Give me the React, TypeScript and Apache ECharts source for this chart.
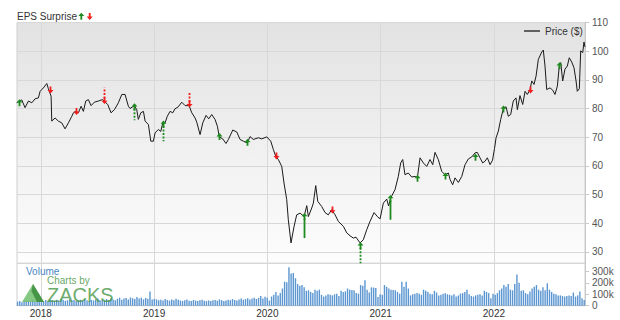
import React, { useEffect, useRef } from 'react';
import * as echarts from 'echarts';

const FONT = '"Liberation Sans", Arial, Helvetica, sans-serif';

// Price ($) line: dates as decimal years
const priceDates = [
  2017.788, 2017.832, 2017.861, 2017.891, 2017.921, 2017.950, 2017.979, 2017.994, 2018.023, 2018.053,
  2018.067, 2018.091, 2018.097, 2018.126, 2018.155, 2018.185, 2018.214, 2018.244, 2018.274, 2018.288,
  2018.309, 2018.332, 2018.356, 2018.376, 2018.397, 2018.420, 2018.444, 2018.473, 2018.508, 2018.544,
  2018.561, 2018.591, 2018.620, 2018.650, 2018.685, 2018.715, 2018.744, 2018.773, 2018.788, 2018.826,
  2018.847, 2018.861, 2018.883, 2018.906, 2018.921, 2018.950, 2018.971, 2018.994, 2019.009, 2019.038,
  2019.059, 2019.077, 2019.097, 2019.117, 2019.141, 2019.165, 2019.185, 2019.214, 2019.244, 2019.274,
  2019.309, 2019.333, 2019.362, 2019.377, 2019.406, 2019.430, 2019.459, 2019.483, 2019.509, 2019.538,
  2019.559, 2019.576, 2019.606, 2019.635, 2019.656, 2019.695, 2019.730, 2019.759, 2019.788, 2019.823,
  2019.847, 2019.876, 2019.921, 2019.951, 2019.995, 2020.030, 2020.053, 2020.074, 2020.097, 2020.127,
  2020.147, 2020.171, 2020.185, 2020.209, 2020.236, 2020.259, 2020.289, 2020.324, 2020.348, 2020.362,
  2020.392, 2020.406, 2020.427, 2020.445, 2020.480, 2020.509, 2020.538, 2020.568, 2020.598, 2020.627,
  2020.671, 2020.701, 2020.730, 2020.759, 2020.783, 2020.818, 2020.847, 2020.877, 2020.906, 2020.942,
  2020.971, 2020.995, 2021.024, 2021.054, 2021.070, 2021.089, 2021.127, 2021.156, 2021.177, 2021.195,
  2021.215, 2021.244, 2021.274, 2021.304, 2021.324, 2021.348, 2021.377, 2021.407, 2021.436, 2021.460,
  2021.480, 2021.509, 2021.539, 2021.568, 2021.598, 2021.613, 2021.636, 2021.657, 2021.686, 2021.716,
  2021.745, 2021.774, 2021.804, 2021.833, 2021.853, 2021.877, 2021.901, 2021.921, 2021.942, 2021.966,
  2021.988, 2022.005, 2022.019, 2022.039, 2022.060, 2022.083, 2022.107, 2022.127, 2022.148, 2022.171,
  2022.195, 2022.207, 2022.230, 2022.254, 2022.275, 2022.295, 2022.319, 2022.334, 2022.354, 2022.372,
  2022.392, 2022.422, 2022.436, 2022.451, 2022.466, 2022.495, 2022.519, 2022.539, 2022.560, 2022.577,
  2022.590, 2022.607, 2022.627, 2022.648, 2022.665, 2022.687, 2022.707, 2022.725, 2022.736, 2022.754,
  2022.766, 2022.784, 2022.795, 2022.804,
];
const priceValues = [
  82, 83, 80.3, 82.6, 82, 83.4, 83.7, 86, 87.2, 88.7,
  86.9, 84.3, 75.6, 76.7, 75.6, 75, 72.9, 75, 77.3, 78.5,
  79, 78.5, 80.8, 79, 82.6, 83.1, 81, 82.2, 82.6, 83.1,
  82.5, 81.4, 78.5, 79.6, 82, 84.9, 84.9, 80.8, 80, 81,
  79.6, 76.2, 78.5, 79, 75.6, 74.4, 68.6, 68.6, 71.5, 72.7,
  72, 75, 75, 77.3, 79, 78.5, 79.9, 80.6, 82.2, 81,
  81, 78.5, 76.7, 75.2, 70.9, 75, 77.6, 76.4, 77.9, 76.2,
  73.8, 70.1, 69.4, 67.8, 69.2, 72.5, 71.8, 69.2, 68.6, 68,
  70.2, 69.2, 69.8, 69.4, 70.1, 68.6, 65.7, 63.3, 62.2, 59.8,
  54, 48.2, 41.2, 33.1, 38.9, 42.9, 43.5, 42.3, 46.1, 42.3,
  45.3, 47, 53.1, 47.6, 45.8, 43.7, 42.9, 44.7, 42.9, 40.6,
  38.9, 36.6, 35.6, 34.8, 35.1, 33.1, 34.2, 37.7, 40.6, 43.7,
  42.3, 41.5, 47, 48.4, 46, 48.8, 51.7, 56.3, 61, 62.2,
  56.9, 57.5, 56.1, 56.3, 55.8, 62.8, 61, 59.8, 62.2, 60.4,
  64.7, 62.2, 58.1, 56.9, 57.5, 55.2, 53.4, 55.8, 54.2, 56.3,
  60.4, 62.4, 63.1, 64.5, 64.7, 62.8, 61, 61.6, 62.8, 60.4,
  62, 66, 69.8, 72.1, 76.2, 79.9, 80.6, 77.3, 77.9, 82.6,
  83.7, 79.6, 84.5, 81.4, 86, 84.9, 86.6, 89.6, 88.4, 91.3,
  97.1, 99.7, 100.4, 94.8, 86.6, 87.2, 86.4, 84.9, 87.8, 94.8,
  96, 89.6, 93.7, 94.8, 97.7, 96.2, 94.2, 89.6, 86, 86.9,
  100.1, 99.5, 103.2, 101.5,
];

// EPS surprise markers
const surpriseDates = [2017.81, 2018.078, 2018.309, 2018.561, 2018.826, 2019.077, 2019.309, 2019.576, 2019.823, 2020.074,
  2020.324, 2020.568, 2020.818, 2021.087, 2021.324, 2021.568, 2021.830, 2022.083, 2022.319, 2022.577];
const surprisePrice = [82, 86.5, 79, 82.8, 80.6, 74.6, 81.6, 70.2, 68.2, 63.5,
  42.3, 44.6, 32.1, 48.6, 55.6, 56.4, 63, 79.8, 86.5, 94.9];
const surpriseTail = [null, null, null, 87.2, 75.9, 68.6, 85.8, null, null, null,
  34.8, null, 26, 41.2, null, null, null, null, null, null];
const surpriseBeat = [1, -1, -1, -1, 1, 1, -1, 1, 1, -1, 1, -1, 1, 1, 1, 1, 1, 1, -1, 1];
const surpriseStem = [0, 0, 0, 2, 2, 2, 2, 0, 0, 0, 1, 0, 2, 1, 0, 0, 0, 0, 0, 0];

// Weekly volume (thousands)
const volumeStart = 2017.795;
const volume2017 = [35, 40, 30, 45, 38, 42, 35, 48, 40, 45, 38];
const volume2018 = [45, 38, 50, 42, 55, 48, 40, 52, 45, 60, 50, 42, 48, 55, 45, 50, 40, 47, 52, 44,
  58, 48, 42, 50, 46, 55, 62, 48, 52, 45, 58, 50, 65, 55, 48, 60, 70, 52, 62, 68,
  55, 72, 65, 58, 75, 62, 70, 55, 68, 60, 125, 55];
const volume2019 = [60, 55, 48, 52, 45, 58, 50, 44, 55, 48, 60, 52, 45, 42, 48, 55, 44, 40, 50, 45,
  42, 48, 52, 44, 40, 46, 42, 48, 50, 44, 55, 48, 42, 46, 52, 48, 58, 50, 46, 55,
  62, 52, 58, 65, 55, 62, 70, 58, 68, 85, 62, 78];
const volume2020 = [70, 45, 80, 95, 120, 90, 110, 150, 210, 205, 335, 280, 285, 240, 190, 175, 180, 160, 130, 135,
  120, 110, 140, 130, 140, 95, 80, 90, 100, 95, 90, 100, 105, 85, 130, 120, 125, 150, 140, 138,
  135, 110, 105, 180, 175, 223, 140, 115, 160, 158, 155, 75];
const volume2021 = [100, 95, 180, 165, 150, 140, 138, 135, 120, 105, 210, 165, 210, 150, 90, 100, 105, 110, 105, 95,
  140, 130, 120, 105, 100, 130, 115, 90, 95, 105, 108, 100, 95, 90, 100, 80, 90, 105, 110, 120,
  140, 100, 85, 80, 90, 95, 100, 90, 130, 120, 110, 65];
const volume2022 = [105, 95, 110, 135, 150, 180, 165, 190, 140, 135, 190, 273, 200, 130, 135, 110, 100, 125, 150, 165,
  180, 140, 130, 160, 135, 195, 140, 120, 105, 100, 90, 90, 85, 80, 85, 90, 85, 115, 80, 90,
  125, 65, 50];

const priceTicks = [30, 40, 50, 60, 70, 80, 90, 100, 110];
const volumeTicks = [0, 100, 200, 300];
const yearTicks = [2018, 2019, 2020, 2021, 2022];

const GREEN = '#1f8a1f';
const RED = '#f21d1d';

function arrowPoints(x: number, y: number, dir: number) {
  const s = dir > 0 ? 1 : -1;
  return [
    [x, y - s * 3.6],
    [x - 3, y - s * 0.2],
    [x - 0.9, y - s * 0.2],
    [x - 0.9, y + s * 3.4],
    [x + 0.9, y + s * 3.4],
    [x + 0.9, y - s * 0.2],
    [x + 3, y - s * 0.2],
  ];
}

export default function App() {
  const ref = useRef<HTMLDivElement>(null);
  useEffect(() => {
    if (!ref.current) return;
    const chart = echarts.init(ref.current, null, { renderer: 'svg' });
    const volumeAll = [...volume2017, ...volume2018, ...volume2019, ...volume2020, ...volume2021, ...volume2022];
    const weekYears = 7 / 365.25;
    const volData = volumeAll.map((v, i) => [volumeStart + i * weekYears, v]);
    const priceData = priceDates.map((d, i) => [d, priceValues[i]]);
    const surpriseData = surpriseDates.map((d, i) => [
      d, surprisePrice[i], surpriseTail[i] == null ? -1 : surpriseTail[i], surpriseBeat[i], surpriseStem[i],
    ]);
    const xMin = 2017.79;
    const xMax = 2022.804;
    const gridColor = '#d8d8d8';

    chart.setOption({
      animation: false,
      backgroundColor: '#ffffff',
      textStyle: { fontFamily: FONT },
      legend: {
        left: 524,
        top: 26,
        icon: 'rect',
        itemWidth: 16,
        itemHeight: 1.3,
        padding: 0,
        textStyle: { fontSize: 10, color: '#333', fontFamily: FONT },
        data: ['Price ($)'],
      },
      grid: [
        {
          left: 17, top: 22.5, width: 568, height: 240.8, show: true,
          borderColor: '#cfcfcf', borderWidth: 1,
          backgroundColor: new echarts.graphic.LinearGradient(0, 0, 0, 1, [
            { offset: 0, color: '#e2e2e2' },
            { offset: 1, color: '#fdfdfd' },
          ]),
        },
        {
          left: 17, top: 263.3, width: 568, height: 42.4, show: true,
          borderColor: '#cfcfcf', borderWidth: 1, backgroundColor: '#ffffff',
        },
      ],
      xAxis: [
        {
          type: 'value', gridIndex: 0, min: xMin, max: xMax,
          axisLine: { show: false },
          axisTick: { show: false, customValues: yearTicks },
          axisLabel: { show: false, customValues: yearTicks },
          splitLine: { show: true, lineStyle: { color: gridColor, width: 1 } },
        },
        {
          type: 'value', gridIndex: 1, min: xMin, max: xMax,
          axisLine: { show: true, lineStyle: { color: '#c8c8c8' } },
          axisTick: { show: false, customValues: yearTicks },
          axisLabel: {
            show: true, customValues: yearTicks, margin: 3,
            fontSize: 10, color: '#333', fontFamily: FONT,
            formatter: (v: number) => String(Math.round(v)),
          },
          splitLine: { show: true, lineStyle: { color: gridColor, width: 1 } },
        },
      ],
      yAxis: [
        {
          type: 'value', gridIndex: 0, position: 'right', min: 26, max: 110,
          axisLine: { show: true, lineStyle: { color: '#c8c8c8' } },
          axisTick: { show: true, length: 4, customValues: priceTicks, lineStyle: { color: '#c8c8c8' } },
          axisLabel: { show: true, customValues: priceTicks, margin: 7, fontSize: 10, color: '#555', fontFamily: FONT },
          splitLine: { show: true, lineStyle: { color: gridColor, width: 1 } },
        },
        {
          type: 'value', gridIndex: 1, position: 'right', min: 0, max: 370,
          axisLine: { show: true, lineStyle: { color: '#c8c8c8' } },
          axisTick: { show: true, length: 4, customValues: volumeTicks, lineStyle: { color: '#c8c8c8' } },
          axisLabel: {
            show: true, customValues: volumeTicks, margin: 7, fontSize: 10, color: '#555', fontFamily: FONT,
            formatter: (v: number) => (v === 0 ? '0' : v + 'k'),
          },
          splitLine: { show: false },
        },
      ],
      series: [
        {
          name: 'Price ($)', type: 'line', xAxisIndex: 0, yAxisIndex: 0,
          data: priceData, symbol: 'none', showSymbol: false, z: 3,
          lineStyle: { color: '#1a1a1a', width: 1 }, itemStyle: { color: '#1a1a1a' },
        },
        {
          name: 'Volume', type: 'bar', xAxisIndex: 1, yAxisIndex: 1,
          data: volData, barWidth: 1.4, itemStyle: { color: '#5b96d1' }, z: 2,
        },
        {
          name: 'EPS', type: 'custom', xAxisIndex: 0, yAxisIndex: 0, z: 4,
          data: surpriseData,
          renderItem: (params: any, api: any) => {
            const t = api.value(0);
            const p = api.value(1);
            const tail = api.value(2);
            const dir = api.value(3);
            const st = api.value(4);
            const pt = api.coord([t, p]);
            const x = Math.round(pt[0]) + 0.5;
            const y = pt[1];
            const color = dir > 0 ? GREEN : RED;
            const s = dir > 0 ? 1 : -1;
            const children: any[] = [];
            if (tail > 0) {
              const yt = api.coord([t, tail])[1];
              const lineStyle: any = { stroke: color, lineWidth: 1.8 };
              if (st === 2) lineStyle.lineDash = [2, 1.5];
              children.push({
                type: 'line',
                shape: { x1: x, y1: y + s * 2, x2: x, y2: yt },
                style: lineStyle,
              });
            }
            children.push({
              type: 'polygon',
              shape: { points: arrowPoints(x, y, dir) },
              style: { fill: color },
            });
            return { type: 'group', children };
          },
        },
      ],
      graphic: [
        {
          type: 'text', left: 17, top: 11, z: 20,
          style: { text: 'EPS Surprise', fontSize: 10, fill: '#333', fontFamily: FONT },
        },
        { type: 'polygon', z: 20, shape: { points: arrowPoints(81.3, 16.3, 1) }, style: { fill: GREEN } },
        { type: 'polygon', z: 20, shape: { points: arrowPoints(89.7, 16.3, -1) }, style: { fill: RED } },
        {
          type: 'text', left: 26, top: 266.5, z: 20,
          style: { text: 'Volume', fontSize: 10, fill: '#4a86c5', fontFamily: FONT },
        },
        {
          type: 'polygon', z: 19,
          shape: { points: [[22, 302], [33, 284], [44, 302]] },
          style: { fill: 'rgba(110,190,110,0.85)' },
        },
        {
          type: 'polygon', z: 19,
          shape: { points: [[33, 284], [44, 302], [37, 302], [31.5, 291]] },
          style: { fill: 'rgba(60,140,60,0.85)' },
        },
        {
          type: 'text', left: 47, top: 275, z: 20,
          style: { text: 'Charts by', fontSize: 10, fill: 'rgba(70,150,70,0.85)', fontFamily: FONT },
        },
        {
          type: 'text', left: 47, top: 285, z: 20,
          style: { text: 'ZACKS', fontSize: 20, fill: 'rgba(70,150,70,0.8)', fontFamily: FONT },
        },
      ],
    });
    return () => chart.dispose();
  }, []);
  return (
    <div
      ref={ref}
      style={{ position: 'absolute', left: 0, top: 0, width: 620, height: 320, background: '#fff' }}
    />
  );
}
